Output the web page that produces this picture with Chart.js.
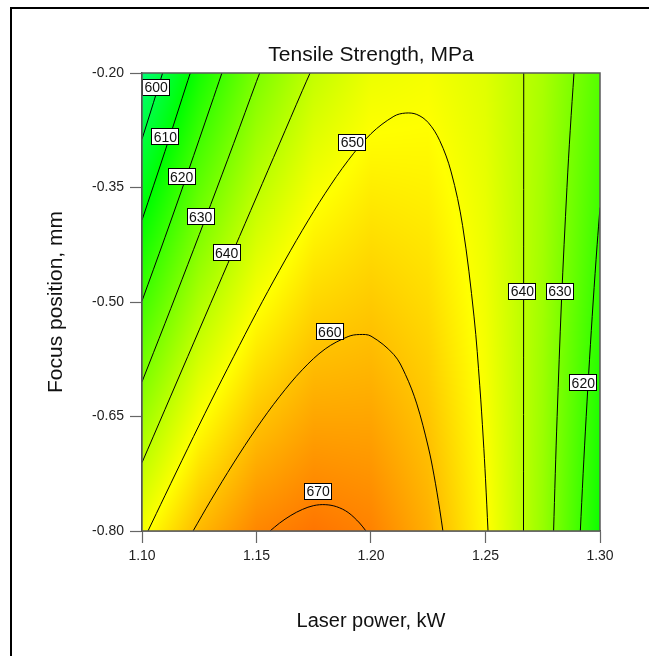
<!DOCTYPE html>
<html>
<head>
<meta charset="utf-8">
<script src="https://cdn.jsdelivr.net/npm/chart.js@4.4.1/dist/chart.umd.min.js"></script>
<style>html,body{margin:0;padding:0;background:#fff}canvas{display:block}</style>
</head>
<body>
<canvas id="c" width="649" height="656"></canvas>
<script>
// ---- data ----
const xTicks = [1.10, 1.15, 1.20, 1.25, 1.30];
const yTicks = [-0.80, -0.65, -0.50, -0.35, -0.20];

// response surface values (MPa) at grid nodes, one row per focus position
const powerGrid = [1.100, 1.125, 1.150, 1.175, 1.200, 1.225, 1.250, 1.275, 1.300];
const focusGrid = [-0.800, -0.725, -0.650, -0.575, -0.500, -0.425, -0.350, -0.275, -0.200];
const strengthF0800 = [648.5, 661.1, 668.9, 671.7, 669.6, 662.6, 650.6, 633.8, 612.0];
const strengthF0725 = [641.4, 655.1, 663.9, 667.8, 666.8, 660.8, 649.9, 634.1, 613.4];
const strengthF0650 = [634.3, 649.1, 659.0, 663.9, 664.0, 659.1, 649.2, 634.5, 614.8];
const strengthF0575 = [627.2, 643.1, 654.0, 660.1, 661.1, 657.3, 648.5, 634.8, 616.2];
const strengthF0500 = [620.1, 637.1, 649.1, 656.2, 658.3, 655.5, 647.8, 635.2, 617.7];
const strengthF0425 = [613.1, 631.0, 644.1, 652.3, 655.5, 653.8, 647.1, 635.6, 619.1];
const strengthF0350 = [606.0, 625.0, 639.2, 648.4, 652.7, 652.0, 646.4, 635.9, 620.5];
const strengthF0275 = [598.9, 619.0, 634.2, 644.5, 649.8, 650.2, 645.7, 636.3, 621.9];
const strengthF0200 = [591.8, 613.0, 629.3, 640.6, 647.0, 648.5, 645.0, 636.7, 623.4];
const strengthRows = [strengthF0800, strengthF0725, strengthF0650, strengthF0575, strengthF0500,
                      strengthF0425, strengthF0350, strengthF0275, strengthF0200];

// contour lines: [laser power kW, focus position mm]
const contour600 = [[1.100,-0.2868],[1.105,-0.2389],[1.109,-0.200]];
const contour610 = [[1.100,-0.3927],[1.110,-0.3029],[1.120,-0.2100],[1.1211,-0.200]];
const contour620Left = [[1.100,-0.4986],[1.110,-0.4156],[1.120,-0.3304],[1.130,-0.2432],[1.1349,-0.200]];
const contour630Left = [[1.100,-0.6046],[1.110,-0.5283],[1.120,-0.4509],[1.130,-0.3724],[1.140,-0.2926],[1.150,-0.2110],[1.1514,-0.200]];
const contour640Left = [[1.100,-0.7105],[1.110,-0.6410],[1.120,-0.5713],[1.130,-0.5017],[1.140,-0.4321],[1.150,-0.3625],[1.160,-0.2929],[1.170,-0.2232],[1.1734,-0.200]];
const contour650 = [[1.1026,-0.800],[1.110,-0.7538],[1.120,-0.6917],[1.130,-0.6308],[1.140,-0.5717],[1.150,-0.5138],[1.160,-0.4586],[1.170,-0.4061],[1.180,-0.3576],[1.190,-0.3146],[1.200,-0.2795],[1.210,-0.2567],[1.215,-0.2525],[1.220,-0.2543],[1.225,-0.2650],[1.230,-0.2885],[1.235,-0.3296],[1.240,-0.4000],[1.245,-0.5195],[1.2475,-0.6098],[1.249,-0.6782],[1.250,-0.7316],[1.2511,-0.800]];
const contour660 = [[1.1223,-0.800],[1.130,-0.7601],[1.140,-0.7109],[1.150,-0.6653],[1.160,-0.6242],[1.170,-0.5888],[1.180,-0.5615],[1.190,-0.5453],[1.195,-0.5426],[1.200,-0.5447],[1.210,-0.5690],[1.215,-0.5948],[1.220,-0.6335],[1.225,-0.6899],[1.2275,-0.7268],[1.230,-0.7715],[1.2314,-0.800]];
const contour670 = [[1.1559,-0.800],[1.160,-0.7898],[1.165,-0.7796],[1.170,-0.7718],[1.175,-0.7667],[1.180,-0.7655],[1.185,-0.7682],[1.190,-0.7757],[1.195,-0.7895],[1.1978,-0.800]];
const contour640Right = [[1.2666,-0.800],[1.2667,-0.200]];
const contour630Right = [[1.27974,-0.800],[1.28047,-0.725],[1.28128,-0.650],[1.28317,-0.500],[1.28557,-0.350],[1.28700,-0.275],[1.28864,-0.200]];
const contour620Right = [[1.29141,-0.800],[1.29263,-0.725],[1.29397,-0.650],[1.29543,-0.575],[1.29701,-0.500],[1.29875,-0.425],[1.300,-0.3763]];
const contours = [contour600, contour610, contour620Left, contour630Left, contour640Left, contour650,
                  contour660, contour670, contour640Right, contour630Right, contour620Right];

// contour labels
const labelTexts = ['600', '610', '620', '630', '640', '650', '660', '670', '640', '630', '620'];
const labelPower = [1.1062, 1.1102, 1.1173, 1.1256, 1.1370, 1.1919, 1.1820, 1.1769, 1.2661, 1.2825, 1.2927];
const labelFocus = [-0.2187, -0.2838, -0.3362, -0.3886, -0.4358, -0.2909, -0.5393, -0.7476, -0.4856, -0.4856, -0.6057];

// colour scale (value -> rgb)
const colourValues = [570, 610, 650, 690];
const colourRGB = [[0,255,255],[0,255,0],[255,255,0],[255,0,0]];

const FONT = '"Liberation Sans", Arial, sans-serif';

function strengthAt(p, f) {
  let i = 0; while (i < powerGrid.length - 2 && p > powerGrid[i + 1]) i++;
  let j = 0; while (j < focusGrid.length - 2 && f > focusGrid[j + 1]) j++;
  let tx = (p - powerGrid[i]) / (powerGrid[i + 1] - powerGrid[i]);
  let ty = (f - focusGrid[j]) / (focusGrid[j + 1] - focusGrid[j]);
  tx = Math.max(0, Math.min(1, tx)); ty = Math.max(0, Math.min(1, ty));
  const r0 = strengthRows[j], r1 = strengthRows[j + 1];
  const a = r0[i] * (1 - tx) + r0[i + 1] * tx;
  const b = r1[i] * (1 - tx) + r1[i + 1] * tx;
  return a * (1 - ty) + b * ty;
}
function colourFor(v) {
  if (v <= colourValues[0]) return colourRGB[0];
  for (let k = 0; k < colourValues.length - 1; k++) {
    if (v <= colourValues[k + 1]) {
      const t = (v - colourValues[k]) / (colourValues[k + 1] - colourValues[k]);
      const c0 = colourRGB[k], c1 = colourRGB[k + 1];
      return [c0[0] + (c1[0] - c0[0]) * t, c0[1] + (c1[1] - c0[1]) * t, c0[2] + (c1[2] - c0[2]) * t];
    }
  }
  return colourRGB[colourRGB.length - 1];
}

const backgroundPlugin = {
  id: 'background',
  beforeDraw(chart) {
    const ctx = chart.ctx;
    ctx.save();
    ctx.fillStyle = '#fff';
    ctx.fillRect(0, 0, chart.width, chart.height);
    ctx.fillStyle = '#000';
    ctx.fillRect(10, 7, 2, chart.height - 7);
    ctx.fillRect(10, 7, chart.width - 10, 2);
    ctx.restore();
  }
};

const heatmapPlugin = {
  id: 'heatmap',
  beforeDatasetsDraw(chart) {
    const {ctx, chartArea: a, scales: {x, y}} = chart;
    const w = Math.round(a.right - a.left), h = Math.round(a.bottom - a.top);
    const off = document.createElement('canvas');
    off.width = w; off.height = h;
    const octx = off.getContext('2d');
    const img = octx.createImageData(w, h);
    for (let py = 0; py < h; py++) {
      const f = y.getValueForPixel(a.top + py + 0.5);
      for (let px = 0; px < w; px++) {
        const p = x.getValueForPixel(a.left + px + 0.5);
        const c = colourFor(strengthAt(p, f));
        const k = (py * w + px) * 4;
        img.data[k] = c[0]; img.data[k + 1] = c[1]; img.data[k + 2] = c[2]; img.data[k + 3] = 255;
      }
    }
    octx.putImageData(img, 0, 0);
    ctx.drawImage(off, a.left, a.top);
  }
};

const labelsPlugin = {
  id: 'contourLabels',
  afterDatasetsDraw(chart) {
    const {ctx, chartArea: a, scales: {x, y}} = chart;
    ctx.save();
    ctx.font = '14px ' + FONT;
    ctx.textAlign = 'center';
    ctx.textBaseline = 'middle';
    for (let k = 0; k < labelTexts.length; k++) {
      const px = x.getPixelForValue(labelPower[k]);
      const py = y.getPixelForValue(labelFocus[k]);
      const bw = 28, bh = 17;
      const lx = Math.round(px - bw / 2), ly = Math.round(py - bh / 2);
      ctx.fillStyle = '#fff';
      ctx.fillRect(lx, ly, bw, bh);
      ctx.strokeStyle = '#000';
      ctx.lineWidth = 1;
      ctx.strokeRect(lx + 0.5, ly + 0.5, bw - 1, bh - 1);
      ctx.fillStyle = '#111';
      ctx.fillText(labelTexts[k], px, py + 1);
    }
    // plot frame
    ctx.strokeStyle = '#5a5a5a';
    ctx.lineWidth = 1.5;
    ctx.strokeRect(a.left, a.top, a.right - a.left, a.bottom - a.top);
    ctx.restore();
  }
};

const datasets = contours.map(c => ({
  data: c.map(pt => ({x: pt[0], y: pt[1]})),
  showLine: true,
  borderColor: '#000',
  borderWidth: 1,
  pointRadius: 0,
  tension: 0.35,
  fill: false
}));

new Chart(document.getElementById('c'), {
  type: 'scatter',
  data: {datasets},
  plugins: [backgroundPlugin, heatmapPlugin, labelsPlugin],
  options: {
    responsive: false,
    devicePixelRatio: 1,
    animation: false,
    layout: {padding: {left: 0, right: 49, top: 0, bottom: 0}},
    plugins: {
      legend: {display: false},
      tooltip: {enabled: false},
      title: {
        display: true,
        fullSize: false,
        text: 'Tensile Strength, MPa',
        color: '#111',
        font: {family: FONT, size: 21, weight: 'normal'},
        padding: {top: 43, bottom: 4.8}
      }
    },
    scales: {
      x: {
        type: 'linear', min: 1.10, max: 1.30,
        afterBuildTicks: s => { s.ticks = xTicks.map(v => ({value: v})); },
        afterFit: s => { s.height = 125; },
        ticks: {callback: v => Number(v).toFixed(2), color: '#222', font: {family: FONT, size: 14}, padding: 5, autoSkip: false, maxRotation: 0},
        grid: {drawOnChartArea: false, drawTicks: true, tickLength: 12, tickColor: '#666', tickWidth: 1.2},
        border: {display: true, color: '#444', width: 1.5},
        title: {display: true, text: 'Laser power, kW', color: '#111', font: {family: FONT, size: 20}, padding: {top: 0, bottom: 23}}
      },
      y: {
        type: 'linear', min: -0.80, max: -0.20,
        afterBuildTicks: s => { s.ticks = yTicks.map(v => ({value: v})); },
        afterFit: s => { s.width = 142; },
        ticks: {callback: v => Number(v).toFixed(2), color: '#222', font: {family: FONT, size: 14}, padding: 6, autoSkip: false},
        grid: {drawOnChartArea: false, drawTicks: true, tickLength: 12, tickColor: '#666', tickWidth: 1.2},
        border: {display: true, color: '#444', width: 1.5},
        title: {display: true, text: 'Focus position, mm', color: '#111', font: {family: FONT, size: 21}, padding: {top: 43.7, bottom: 0}}
      }
    }
  }
});
</script>
</body>
</html>
